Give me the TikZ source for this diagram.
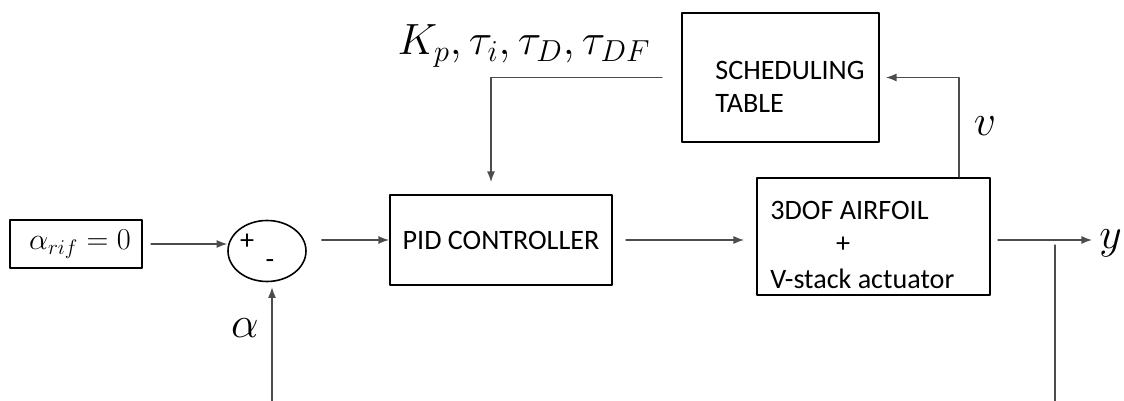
\documentclass[tikz,border=0pt]{standalone}
\usepackage{fontspec}
\setmainfont{Carlito}
\usetikzlibrary{arrows.meta,calc,shapes.geometric}

\begin{document}
\begin{tikzpicture}[x=0.2mm, y=-0.2mm, >={Latex[length=6pt,width=4.5pt]}, line cap=round, line join=round]

	\tikzset{
		blk/.style={draw, line width=1.1pt, inner sep=0pt},
		wire/.style={draw=black!70, line width=0.7pt},
		txt/.style={font=\fontsize{16}{19}\selectfont, inner sep=0pt},
		big/.style={font=\fontsize{26}{30}\selectfont, inner sep=0pt},
	}
	\useasboundingbox (0,0) rectangle (1124,401);

	% reference and summing junction
	\node[blk, minimum width=2.64cm, minimum height=0.96cm] (ref) at (76,244) {};
	\node[font=\fontsize{17}{20}\selectfont, inner sep=0pt] (reftxt) at (80,244) {$\alpha_{rif}=0$};
	\node[draw, line width=0.9pt, ellipse, minimum width=1.56cm, minimum height=1.22cm, inner sep=0pt] (sum) at (267,251) {};
	\node[txt] (plus) at (247,242) {+};
	\node[txt] (minus) at (270,264) {-};

	% blocks
	\node[blk, txt, minimum width=4.44cm, minimum height=1.8cm] (pid) at (501,240) {PID CONTROLLER};
	\node[blk, minimum width=4.66cm, minimum height=2.34cm] (plant) at (873.5,236.5) {};
	\node[txt, anchor=west] (plantA) at (770,210) {3DOF AIRFOIL};
	\node[txt] (plantB) at (843,245) {+};
	\node[txt, anchor=west] (plantC) at (770,279) {V-stack actuator};
	\node[blk, minimum width=3.94cm, minimum height=2.58cm] (sched) at (780.5,77.5) {};
	\node[txt, anchor=west] (schedA) at (715,70) {SCHEDULING};
	\node[txt, anchor=west] (schedB) at (715,103) {TABLE};

	% signals
	\draw[wire,->, shorten <=1.6mm] (ref.east) -- (ref.east -| sum.west);
	\draw[wire,->] ($(sum.east |- pid.west)+(15,0)$) -- (pid.west);
	\draw[wire,->, shorten <=2.6mm, shorten >=2.4mm] (pid.east) -- (pid.east -| plant.west);

	\coordinate (yend) at (1092,240);
	\draw[wire,->, shorten <=1.4mm] (plant.east |- yend) -- (yend);
	\node[big, anchor=west] (ylab) at (1099,243) {$y$};
	\coordinate (fbtop) at (1055,245);
	\coordinate (fbbot) at (1055,401);
	\draw[wire] (fbtop) -- (fbbot);

	\coordinate (abot) at (272,401);
	\draw[wire,->, shorten >=1mm] (abot) -- (abot |- sum.south);
	\node[big] (alab) at (245,328) {$\alpha$};

	\draw[wire,->, shorten >=1.2mm] ($(plant.north east)+(-32,0)$) |- (sched.east);
	\node[big] (vlab) at (985,126) {$v$};

	\draw[wire,->, shorten <=3.8mm, shorten >=2.4mm] (sched.west) -| ($(pid.north)+(-10,0)$);
	\node[font=\fontsize{25}{30}\selectfont, inner sep=0pt] (gains) at (524,46) {$K_p,\tau_i,\tau_D,\tau_{DF}$};

\end{tikzpicture}
\end{document}
